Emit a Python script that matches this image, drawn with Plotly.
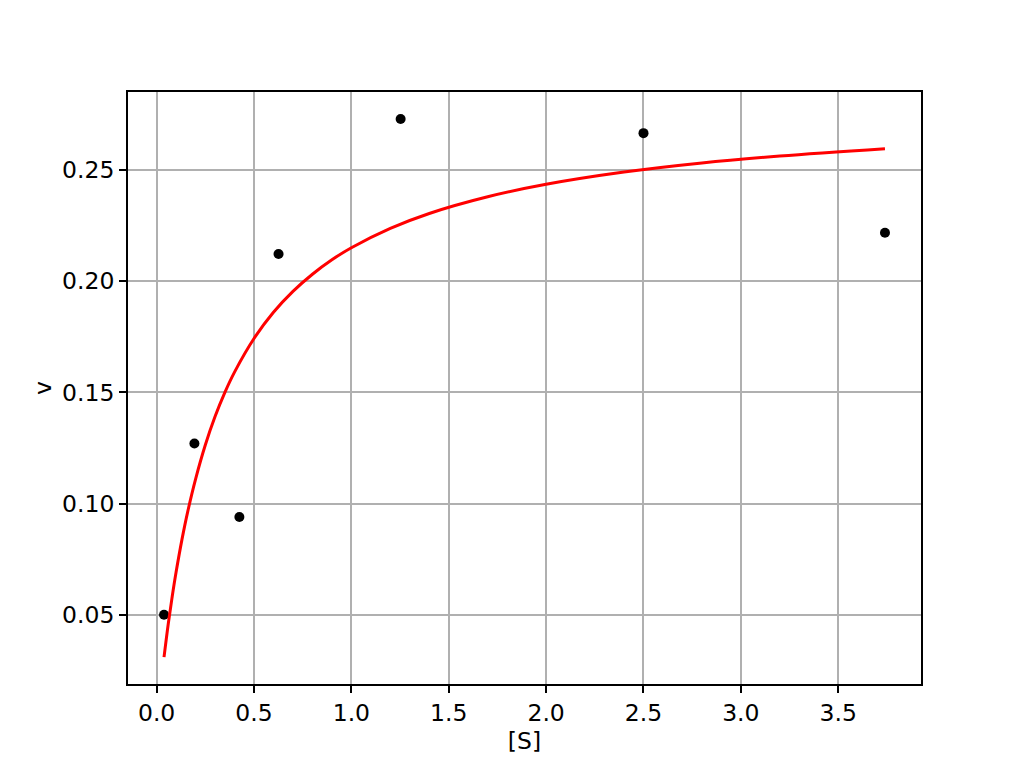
import plotly.graph_objects as go

# Measured data points
substrate = [0.038, 0.194, 0.425, 0.626, 1.253, 2.500, 3.740]
rate = [0.050, 0.127, 0.094, 0.2122, 0.2729, 0.2665, 0.2217]

# Fitted curve, values
curve_x = [0.038, 0.06, 0.08, 0.1, 0.13, 0.16, 0.2, 0.25, 0.3, 0.35, 0.4, 0.5,
           0.6, 0.7, 0.8, 0.9, 1.0, 1.2, 1.4, 1.7, 2.0, 2.4, 2.8, 3.2, 3.74]
curve_y = [0.0310, 0.0461, 0.0582, 0.0692, 0.0838, 0.0965, 0.1110, 0.1263,
           0.1391, 0.1499, 0.1591, 0.1742, 0.1860, 0.1954, 0.2031, 0.2096,
           0.2150, 0.2237, 0.2304, 0.2379, 0.2435, 0.2490, 0.2531, 0.2562,
           0.2595]

x_ticks = [0.0, 0.5, 1.0, 1.5, 2.0, 2.5, 3.0, 3.5]
x_tick_text = ["0.0", "0.5", "1.0", "1.5", "2.0", "2.5", "3.0", "3.5"]
y_ticks = [0.05, 0.10, 0.15, 0.20, 0.25]
y_tick_text = ["0.05", "0.10", "0.15", "0.20", "0.25"]

fig = go.Figure()
fig.add_trace(go.Scatter(
    x=substrate, y=rate, mode="markers",
    marker=dict(color="black", size=10), showlegend=False))
fig.add_trace(go.Scatter(
    x=curve_x, y=curve_y, mode="lines",
    line=dict(color="red", width=3, shape="spline"), showlegend=False))

font = dict(family="DejaVu Sans", size=23.5, color="black")
axis_common = dict(
    showgrid=True, gridcolor="#b0b0b0", gridwidth=1.8,
    showline=True, linecolor="black", linewidth=1.8, mirror=True,
    ticks="outside", ticklen=7, tickwidth=1.8, tickcolor="black",
    zeroline=False, tickfont=font, title_font=font,
)
fig.update_layout(
    width=1024, height=768,
    margin=dict(l=120, r=111, t=84, b=92),
    paper_bgcolor="white", plot_bgcolor="white",
    font=font,
    xaxis=dict(range=[-0.147, 3.925], tickvals=x_ticks, ticktext=x_tick_text,
               title=dict(text="[S]", standoff=4), **axis_common),
    yaxis=dict(range=[0.0189, 0.285], tickvals=y_ticks, ticktext=y_tick_text,
               title=dict(text="v", standoff=4), **axis_common),
)
fig.write_html("out.html")
